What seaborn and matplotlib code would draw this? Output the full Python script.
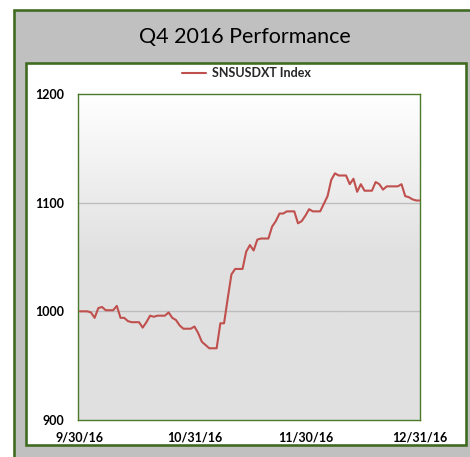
import numpy as np
import pandas as pd
import matplotlib
matplotlib.use("Agg")
import matplotlib.pyplot as plt
from matplotlib.patches import Rectangle
from matplotlib.colors import LinearSegmentedColormap
import seaborn as sns

# ---- data (daily calendar values, weekends carried forward) ----
start_date = "2016-09-30"
end_date = "2016-12-31"
index_values = [
    1000, 1000, 1000, 999, 994, 1003, 1004, 1001, 1001, 1001,
    1005, 994, 994, 991, 990, 990, 990, 985, 990, 996,
    995, 996, 996, 996, 999, 994, 992, 987, 984, 984,
    984, 986, 980, 972, 969, 966, 966, 966, 989, 989,
    1012, 1034, 1039, 1039, 1039, 1055, 1061, 1056, 1066, 1067,
    1067, 1067, 1078, 1083, 1090, 1090, 1092, 1092, 1092, 1081,
    1083, 1088, 1094, 1092, 1092, 1092, 1099, 1106, 1121, 1127,
    1125, 1125, 1125, 1117, 1122, 1110, 1117, 1111, 1111, 1111,
    1119, 1117, 1112, 1115, 1115, 1115, 1115, 1117, 1106, 1105,
    1103, 1102, 1102,
]
series_name = "SNSUSDXT Index"
title_text = "Q4 2016 Performance"
x_tick_dates = ["2016-09-30", "2016-10-31", "2016-11-30", "2016-12-31"]
x_tick_labels = ["9/30/16", "10/31/16", "11/30/16", "12/31/16"]
y_ticks = [900, 1000, 1100, 1200]
y_tick_labels = ["900", "1000", "1100", "1200"]

dates = pd.date_range(start_date, end_date, freq="D")
df = pd.DataFrame({"date": dates, "value": index_values})

sns.set_style("white")
plt.rcParams["font.family"] = ["Lato", "DejaVu Sans"]

W, H = 470, 457
fig = plt.figure(figsize=(W / 100, H / 100), dpi=100)
fig.patch.set_facecolor("white")

green = "#3e6b1f"
px = 72 / 100.0

# outer gray panel
outer = Rectangle((13.5 / W, 1 - 470 / H), (480 - 13.5) / W, (470 - 10) / H,
                  transform=fig.transFigure, facecolor="#c0c0c0",
                  edgecolor=green, linewidth=2.6 * px, zorder=-3)
fig.patches.append(outer)
# inner white panel
inner = Rectangle((25.5 / W, 1 - 445 / H), (466 - 25.5) / W, (445 - 63) / H,
                  transform=fig.transFigure, facecolor="white",
                  edgecolor=green, linewidth=2.6 * px, zorder=-2)
fig.patches.append(inner)

fig.text(245 / W, 1 - 37.5 / H, title_text, ha="center", va="center",
         fontsize=15.5, color="black")

ax = fig.add_axes([78 / W, 1 - 420 / H, 342 / W, 326 / H])
ax.set_facecolor("#e0e0e0")

# gradient background
grad = np.linspace(0, 1, 256).reshape(-1, 1)
cmap = LinearSegmentedColormap.from_list(
    "bg", [(0, "#e0e0e0"), (0.5, "#e0e0e0"), (1.0, "#ffffff")])
ax.imshow(grad, aspect="auto", cmap=cmap, origin="lower",
          extent=(0, 1, 0, 1), transform=ax.transAxes, zorder=0)

sns.lineplot(data=df, x="date", y="value", ax=ax, color="#c0504d",
             linewidth=1.5, label=series_name, zorder=3)

ax.set_xlim(pd.Timestamp(start_date) - pd.Timedelta(hours=12),
            pd.Timestamp(end_date))
ax.set_ylim(900, 1200)

for yv in [1000, 1100]:
    ax.axhline(yv, color="#bdbdbd", linewidth=1.0, zorder=1)

ax.set_xticks([pd.Timestamp(d) for d in x_tick_dates])
ax.set_xticklabels(x_tick_labels)
ax.set_yticks(y_ticks)
ax.set_yticklabels(y_tick_labels)
ax.tick_params(axis="both", length=0, labelsize=9, colors="black")
ax.tick_params(axis="x", pad=8)
ax.tick_params(axis="y", pad=10)
for lab in ax.get_xticklabels() + ax.get_yticklabels():
    lab.set_fontweight("bold")
ax.set_xlabel("")
ax.set_ylabel("")

for sp in ax.spines.values():
    sp.set_visible(True)
    sp.set_color("#4a7a2a")
    sp.set_linewidth(1.0)

leg = ax.legend(loc="center", bbox_to_anchor=(0.493, 1.064), frameon=False,
                handlelength=1.9, handletextpad=0.45, borderaxespad=0,
                prop={"size": 9, "weight": "bold"})

fig.savefig("out.png", dpi=100)
